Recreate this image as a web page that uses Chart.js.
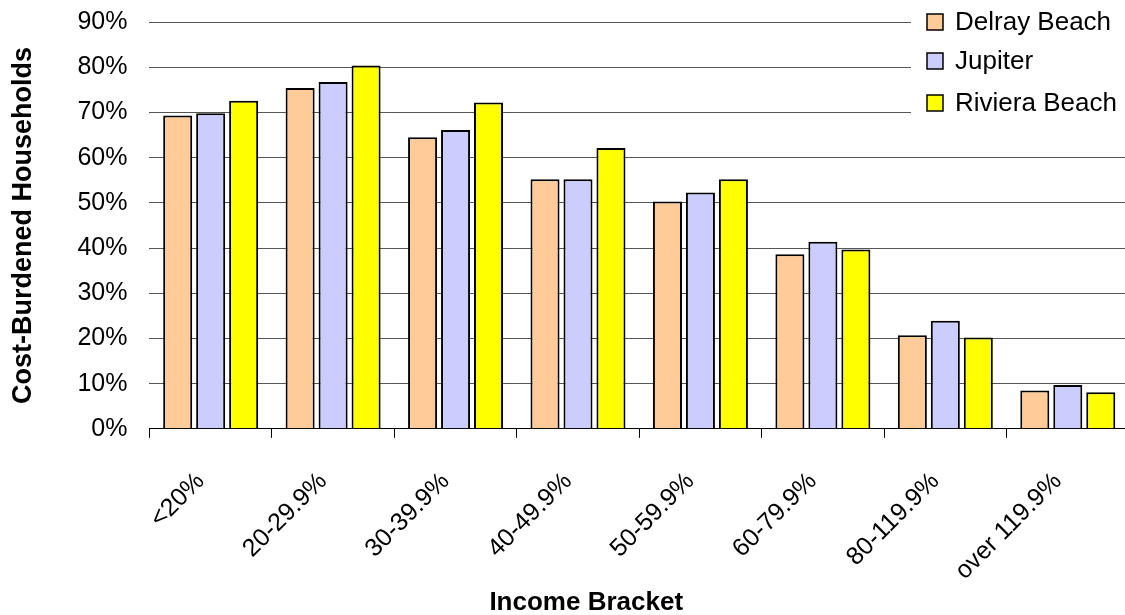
<!DOCTYPE html>
<html>
<head>
<meta charset="utf-8">
<script src="https://cdn.jsdelivr.net/npm/chart.js@4.4.1/dist/chart.umd.min.js"></script>
<style>
  html, body { margin: 0; padding: 0; background: #fff; overflow: hidden; }
  #wrap { position: relative; width: 1130px; height: 630px; margin-top: -15px; }
</style>
</head>
<body>
<div id="wrap"><canvas id="c"></canvas></div>
<script>
const categories = ['<20%', '20-29.9%', '30-39.9%', '40-49.9%', '50-59.9%', '60-79.9%', '80-119.9%', 'over 119.9%'];
const seriesNames = ['Delray Beach', 'Jupiter', 'Riviera Beach'];
const delrayBeach = [69.3, 75.4, 64.5, 55.2, 50.3, 38.6, 20.7, 8.5];
const jupiter = [69.8, 76.7, 66.1, 55.2, 52.3, 41.4, 23.9, 9.7];
const rivieraBeach = [72.6, 80.4, 72.2, 62.1, 55.2, 39.7, 20.2, 8.1];
const yTicks = [0, 10, 20, 30, 40, 50, 60, 70, 80, 90];
const xTitle = 'Income Bracket';
const yTitle = 'Cost-Burdened Households';

const FONT = "'Liberation Sans', Arial, sans-serif";
const colors = ['#FFCC99', '#CCCCFF', '#FFFF00'];
const seriesData = [delrayBeach, jupiter, rivieraBeach];
const SHIFT = 15; // canvas is moved up by this many pixels

const legendPlugin = {
  id: 'excelLegend',
  afterDraw(chart) {
    const ctx = chart.ctx;
    ctx.save();
    ctx.fillStyle = '#fff';
    ctx.fillRect(911, 0, 230, 118 + SHIFT);
    const rowsY = [22, 61, 103];
    ctx.font = '26px ' + FONT;
    ctx.textBaseline = 'middle';
    ctx.textAlign = 'left';
    chart.data.datasets.forEach((ds, i) => {
      const cy = rowsY[i] + SHIFT;
      ctx.fillStyle = ds.backgroundColor;
      ctx.fillRect(927, cy - 8, 16, 16);
      ctx.lineWidth = 1.5;
      ctx.strokeStyle = '#000';
      ctx.strokeRect(927, cy - 8, 16, 16);
      ctx.fillStyle = '#000';
      ctx.fillText(ds.label, 955, cy + 1);
    });
    // x axis title
    const ca = chart.chartArea;
    ctx.font = 'bold 26px ' + FONT;
    ctx.textAlign = 'center';
    ctx.fillText(xTitle, (ca.left + ca.right) / 2 - 53, 603 + SHIFT);
    ctx.restore();
  }
};

new Chart(document.getElementById('c'), {
  type: 'bar',
  data: {
    labels: categories,
    datasets: seriesNames.map((n, i) => ({
      label: n,
      data: seriesData[i],
      backgroundColor: colors[i],
      borderColor: '#000',
      borderWidth: 2,
      categoryPercentage: 0.808,
      barPercentage: 0.88
    }))
  },
  options: {
    responsive: true,
    maintainAspectRatio: false,
    animation: false,
    layout: { padding: { left: 0, top: 7, right: 1, bottom: 0 } },
    plugins: { legend: { display: false }, tooltip: { enabled: false } },
    scales: {
      x: {
        grid: { display: true, drawOnChartArea: false, drawTicks: true, tickLength: 9, offset: true, color: '#000', lineWidth: 1 },
        border: { display: true, color: '#000', width: 1 },
        ticks: { color: '#000', font: { family: FONT, size: 25 }, minRotation: 45, maxRotation: 45, padding: 29, labelOffset: -10, autoSkip: false }
      },
      y: {
        min: 0, max: 90,
        afterBuildTicks(scale) { scale.ticks = yTicks.map(v => ({ value: v })); },
        grid: { color: '#555', lineWidth: 1, drawTicks: false },
        border: { display: false },
        ticks: { color: '#000', font: { family: FONT, size: 25 }, padding: 22, callback: v => v + '%' },
        title: { display: true, text: yTitle, color: '#000', font: { family: FONT, size: 27, weight: 'bold' }, padding: { top: 7, bottom: 16 } }
      }
    }
  },
  plugins: [legendPlugin]
});
</script>
</body>
</html>
